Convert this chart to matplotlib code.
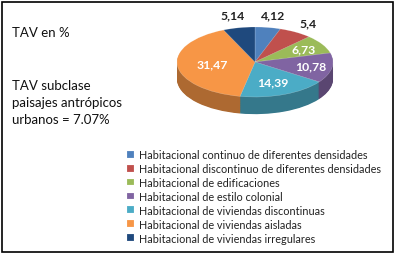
import numpy as np
import matplotlib
matplotlib.use('Agg')
import matplotlib.pyplot as plt
from matplotlib.colors import to_rgb
from matplotlib.patches import Rectangle

plt.rcParams['font.family'] = ['Lato', 'DejaVu Sans']

categories = [
    'Habitacional continuo de diferentes densidades',
    'Habitacional discontinuo de diferentes densidades',
    'Habitacional de edificaciones',
    'Habitacional de estilo colonial',
    'Habitacional de viviendas discontinuas',
    'Habitacional de viviendas aisladas',
    'Habitacional de viviendas irregulares',
]
values = [4.12, 5.4, 6.73, 10.78, 14.39, 31.47, 5.14]
value_labels = ['4,12', '5,4', '6,73', '10,78', '14,39', '31,47', '5,14']
colors = ['#4f81bd', '#c0504d', '#9bbb59', '#8064a2', '#4bacc6', '#f79646', '#1f497d']

W, H = 396, 255
fig = plt.figure(figsize=(W / 100, H / 100), dpi=100)

# pie axes: centre at (255, 63) px, radii 78 x 35 px
cx, cy, rx, ry = 255, 63, 78, 35
px0, px1, py0, py1 = 160, 350, 0, 135
ax = fig.add_axes([px0 / W, (H - py1) / H, (px1 - px0) / W, (py1 - py0) / H])


def darker(c, f):
    r, g, b = to_rgb(c)
    return (r * f, g * f, b * f)


depth = 0.49
side_colors = [darker(c, 0.7) for c in colors]
for i, off in enumerate(np.linspace(-depth, -0.02, 25)):
    ax.pie(values, colors=side_colors, startangle=90, counterclock=False,
           center=(0, off), wedgeprops=dict(linewidth=0))

wedges, _ = ax.pie(values, colors=colors, startangle=90, counterclock=False,
                   wedgeprops=dict(linewidth=0.3, edgecolor=(1, 1, 1, 0.4)))

ax.set_aspect('auto')
ax.set_xlim((px0 - cx) / rx, (px1 - cx) / rx)
ax.set_ylim((cy - py1) / ry, (cy - py0) / ry)
ax.axis('off')

# value labels
total = sum(values)
start = 90.0
label_r = [1.38, 1.3, 0.72, 0.72, 0.62, 0.55, 1.38]
inside = [False, False, True, True, True, True, False]
for v, lab, r, ins in zip(values, value_labels, label_r, inside):
    span = v / total * 360
    mid = np.radians(start - span / 2)
    start -= span
    ax.text(r * np.cos(mid), r * np.sin(mid), lab,
            ha='center', va='center', fontsize=8.8, fontweight='bold',
            color='white' if ins else '#222222')

# left texts
fig.text(12 / W, 1 - 33 / H, 'TAV en %', fontsize=9.5, va='center', color='#111111')
fig.text(12 / W, 1 - 103 / H, 'TAV subclase\npaisajes antrópicos\nurbanos = 7.07%',
         fontsize=9.5, va='center', linespacing=1.45, color='#111111')

# legend
fig.legend(wedges, categories, loc='upper left', bbox_to_anchor=(127 / W, 1 - 150 / H),
           frameon=False, fontsize=7.8, handlelength=0.6, handleheight=0.6,
           handletextpad=0.55, labelspacing=0.27, borderaxespad=0, borderpad=0,
           labelcolor='#222222')

# outer frame
fig.patches.append(Rectangle((2 / W, 2 / H), 391 / W, 250 / H, transform=fig.transFigure,
                             fill=False, edgecolor='black', linewidth=1.2))

fig.savefig('out.png', dpi=100)
